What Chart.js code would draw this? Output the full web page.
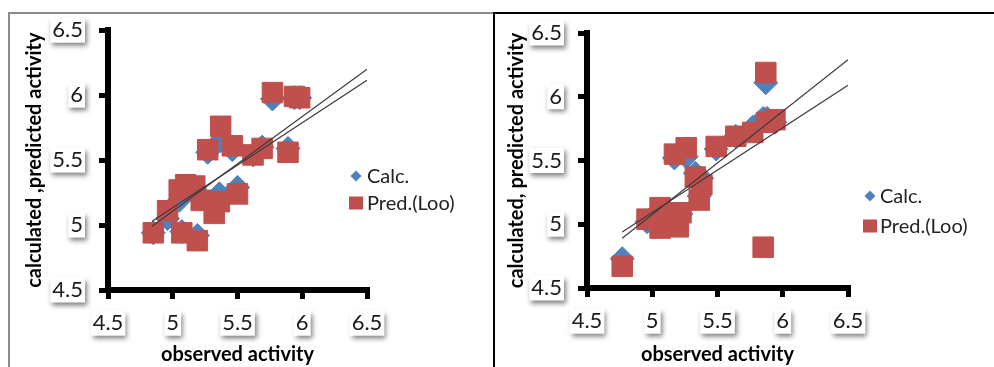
<!DOCTYPE html>
<html>
<head>
<meta charset="utf-8">
<script src="https://cdn.jsdelivr.net/npm/chart.js@4/dist/chart.umd.min.js"></script>
<style>
html,body{margin:0;padding:0;background:#fff;}
#wrap{position:relative;width:994px;height:367px;overflow:hidden;background:#fff;}
canvas{position:absolute;top:0;}
#c1{left:0;}
#c2{left:494px;}
.frameL{position:absolute;left:8px;top:12px;width:490px;height:400px;border-left:2px solid #8c8c8c;border-top:2px solid #8c8c8c;}
.frameR{position:absolute;left:493px;top:12px;width:520px;height:400px;border-left:2px solid #000;border-top:2px solid #000;}
</style>
</head>
<body>
<div id="wrap">
  <div class="frameL"></div>
  <div class="frameR"></div>
  <canvas id="c1" width="494" height="367"></canvas>
  <canvas id="c2" width="500" height="367"></canvas>
</div>
<script>
// ---------- data ----------
const seriesNames = ['Calc.', 'Pred.(Loo)'];
const tickValues = [4.5, 5, 5.5, 6, 6.5];
const tickLabels = ['4.5', '5', '5.5', '6', '6.5'];
const xTitle = 'observed activity';
const yTitleLeft = 'calculated ,predicted activity';
const yTitleRight = 'calculated, predicted activity';

// left panel
const obsLeft  = [4.85, 4.96, 5.05, 5.10, 5.17, 5.22, 5.32, 5.36, 5.50, 5.07, 5.19, 5.27, 5.37, 5.46, 5.62, 5.69, 5.89, 5.77, 5.94, 5.98];
const calcLeft = [4.94, 5.05, 5.19, 5.28, 5.28, 5.20, 5.20, 5.24, 5.29, 4.95, 4.92, 5.56, 5.65, 5.58, 5.54, 5.60, 5.59, 5.97, 5.98, 5.98];
const predLeft = [4.94, 5.11, 5.27, 5.31, 5.30, 5.19, 5.09, 5.18, 5.24, 4.94, 4.88, 5.58, 5.76, 5.61, 5.54, 5.59, 5.56, 6.02, 5.99, 5.98];
const trendXLeft  = [4.84, 6.5];
const trendALeft  = [4.99, 6.20];
const trendBLeft  = [5.03, 6.115];

// right panel
const obsRight  = [4.77, 5.85, 5.87, 4.96, 5.06, 5.06, 5.20, 5.22, 5.17, 5.26, 5.33, 5.38, 5.36, 5.49, 5.64, 5.77, 5.94, 5.88];
const calcRight = [4.73, 5.83, 6.11, 5.02, 5.12, 5.00, 5.02, 5.08, 5.52, 5.53, 5.40, 5.36, 5.22, 5.59, 5.69, 5.76, 5.80, 5.83];
const predRight = [4.67, 4.82, 6.19, 5.04, 5.13, 4.97, 4.98, 5.09, 5.55, 5.60, 5.37, 5.31, 5.19, 5.61, 5.69, 5.72, 5.82, 5.80];
const trendXRight = [4.77, 6.5];
const trendARight = [4.89, 6.29];
const trendBRight = [4.94, 6.09];

// ---------- helpers ----------
const zip = (xs, ys) => xs.map((x, i) => ({x: x, y: ys[i]}));
const BLUE = '#4F81BD', RED = '#C0504D';
const TICK_FONT = {family: 'Lato', size: 22};
const TITLE_FONT = {family: 'Lato', size: 20, weight: 'bold'};

function resetCtx(ctx) {
  ctx.shadowColor = 'rgba(0,0,0,0)';
  ctx.shadowBlur = 0;
  ctx.shadowOffsetX = 0;
  ctx.shadowOffsetY = 0;
  ctx.globalAlpha = 1;
  ctx.globalCompositeOperation = 'source-over';
  if (ctx.setLineDash) ctx.setLineDash([]);
}

// white label boxes with a soft drop shadow behind the tick labels
const labelBoxes = {
  id: 'labelBoxes',
  beforeDraw(chart) {
    const ctx = chart.ctx;
    ctx.save();
    ctx.font = TICK_FONT.size + 'px ' + TICK_FONT.family;
    ['x', 'y'].forEach(id => {
      const s = chart.scales[id];
      const tl = s.options.grid.tickLength, pad = s.options.ticks.padding;
      const lh = TICK_FONT.size * 1.2;
      s.ticks.forEach((t, i) => {
        const w = ctx.measureText(String(t.label)).width;
        let x0, y0;
        if (id === 'y') {
          x0 = s.right - tl - pad - w - 2;
          y0 = s.getPixelForTick(i) - 12.5;
        } else {
          x0 = s.getPixelForTick(i) - w / 2 - 2;
          y0 = s.top + tl + pad + lh / 2 - 12.5;
        }
        ctx.shadowColor = 'rgba(0,0,0,0.5)';
        ctx.shadowBlur = 5;
        ctx.shadowOffsetX = 2;
        ctx.shadowOffsetY = 3;
        ctx.fillStyle = '#fff';
        ctx.fillRect(x0, y0, w + 4, 25);
      });
    });
    ctx.restore();
    resetCtx(ctx);
  }
};

// heavy axis bars with outward tick marks (positions from the scales' own pixel mapping)
// and the series legend, drawn last
const overlay = {
  id: 'overlay',
  afterDraw(chart, args, opts) {
    const ctx = chart.ctx, a = chart.chartArea;
    const xs = chart.scales.x, ys = chart.scales.y;
    const T = 6;          // axis thickness
    const TL = 9;         // tick reach beyond axis centre
    const TW = 5;         // tick thickness
    ctx.save();
    resetCtx(ctx);
    ctx.fillStyle = '#000';
    // y axis bar
    ctx.fillRect(Math.round(a.left - T / 2), Math.round(a.top - 3), T, Math.round(a.bottom - a.top + 3 + T / 2));
    // x axis bar
    ctx.fillRect(Math.round(a.left - T / 2), Math.round(a.bottom - T / 2), Math.round(a.right - a.left + T / 2 + 3), T);
    // x ticks (downward)
    xs.ticks.forEach((t, i) => {
      const px = xs.getPixelForTick(i);
      ctx.fillRect(Math.round(px - TW / 2), Math.round(a.bottom), TW, TL);
    });
    // y ticks (leftward)
    ys.ticks.forEach((t, i) => {
      const py = ys.getPixelForTick(i);
      ctx.fillRect(Math.round(a.left - TL), Math.round(py - TW / 2), TL, TW);
    });

    // legend
    ctx.font = '20px Lato';
    ctx.textBaseline = 'middle';
    ctx.textAlign = 'left';
    const items = chart.data.datasets.filter(d => d.inLegend);
    items.forEach((d, i) => {
      const cy = opts.y + i * opts.gap;
      ctx.fillStyle = d.backgroundColor;
      if (d.pointStyle === 'rectRot') {
        ctx.beginPath();
        ctx.moveTo(opts.x, cy - 5.5);
        ctx.lineTo(opts.x + 5.5, cy);
        ctx.lineTo(opts.x, cy + 5.5);
        ctx.lineTo(opts.x - 5.5, cy);
        ctx.closePath();
        ctx.fill();
      } else {
        ctx.fillRect(opts.x - 7, cy - 6.5, 14, 13);
      }
      ctx.fillStyle = '#222';
      ctx.fillText(d.label, opts.textX, cy + 1);
    });
    ctx.restore();
  }
};

function makeChart(canvasId, obs, calc, pred, tx, ta, tb, yTitle, geom) {
  const axisCommon = (title, titlePad) => ({
    type: 'linear',
    min: tickValues[0],
    max: tickValues[tickValues.length - 1],
    afterBuildTicks: s => { s.ticks = tickValues.map(v => ({value: v})); },
    ticks: {
      font: TICK_FONT,
      color: '#1a1a1a',
      padding: 0,
      callback: v => tickLabels[tickValues.indexOf(v)]
    },
    grid: {display: true, drawOnChartArea: false, drawTicks: true, tickLength: 8, tickWidth: 5, tickColor: '#000'},
    border: {display: true, width: 5, color: '#000'},
    title: {display: true, text: title, font: TITLE_FONT, color: '#000', padding: titlePad}
  });
  const xs = axisCommon(xTitle, {top: 0, bottom: 0});
  xs.ticks.padding = 12;
  xs.afterFit = s => { s.height = geom.xH; };
  const ys = axisCommon(yTitle, {top: geom.yTitlePad, bottom: 0});
  ys.ticks.padding = 17;
  ys.afterFit = s => { s.width = geom.yW; };

  return new Chart(document.getElementById(canvasId), {
    type: 'scatter',
    data: {
      datasets: [
        {label: 'trendA', data: zip(tx, ta), showLine: true, pointRadius: 0, borderColor: '#3c3c3c', borderWidth: 1.2, order: 0, inLegend: false},
        {label: 'trendB', data: zip(tx, tb), showLine: true, pointRadius: 0, borderColor: '#3c3c3c', borderWidth: 1.2, order: 0, inLegend: false},
        {label: seriesNames[0], data: zip(obs, calc), pointStyle: 'rectRot', pointRadius: 12, borderWidth: 1, borderColor: BLUE, backgroundColor: BLUE, order: 2, inLegend: true},
        {label: seriesNames[1], data: zip(obs, pred), pointStyle: 'rect', pointRadius: 14.5, borderWidth: 1, borderColor: RED, backgroundColor: RED, order: 1, inLegend: true}
      ]
    },
    options: {
      responsive: false,
      animation: false,
      devicePixelRatio: 1,
      layout: {padding: {left: 0, top: geom.top, right: geom.right, bottom: 0}},
      scales: {x: xs, y: ys},
      plugins: {
        legend: {display: false},
        tooltip: {enabled: false},
        overlay: geom.legend
      }
    },
    plugins: [labelBoxes, overlay]
  });
}

makeChart('c1', obsLeft, calcLeft, predLeft, trendXLeft, trendALeft, trendBLeft, yTitleLeft,
  {top: 30, right: 127, xH: 77, yW: 108, yTitlePad: 23, legend: {x: 356, y: 176, gap: 27, textX: 367}});
makeChart('c2', obsRight, calcRight, predRight, trendXRight, trendARight, trendBRight, yTitleRight,
  {top: 33, right: 146, xH: 79, yW: 93, yTitlePad: 11, legend: {x: 376, y: 196, gap: 30, textX: 386}});
</script>
</body>
</html>
